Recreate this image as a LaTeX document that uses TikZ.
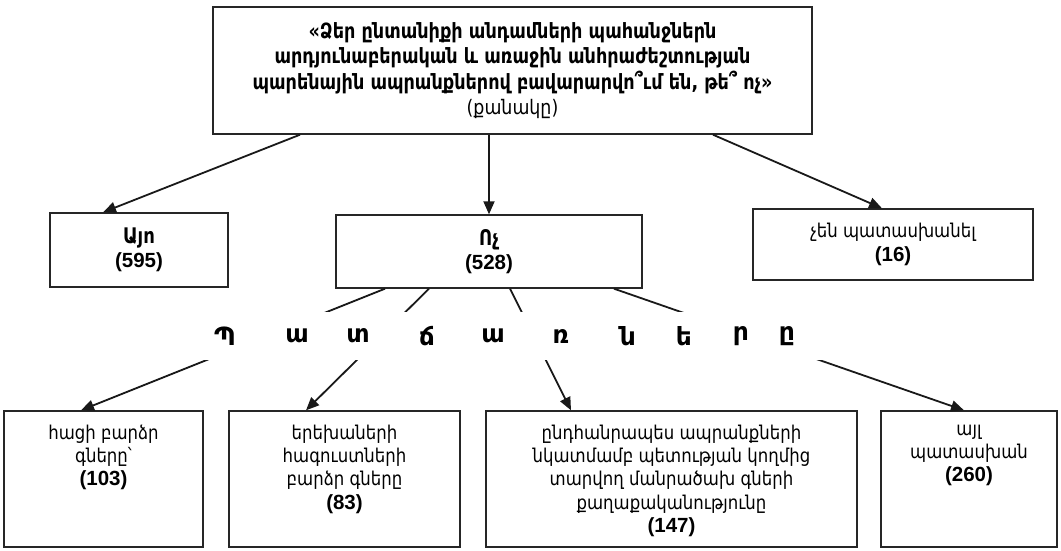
\documentclass[tikz,border=0pt]{standalone}
\usepackage{fontspec}
\setmainfont{Liberation Sans}
\newfontfamily\armfont[FakeStretch=0.87,BoldFeatures={FakeStretch=0.84}]{DejaVu Sans}
\newfontfamily\armwide{DejaVu Sans}
\newcommand{\hy}[1]{{\armfont #1}}
\newcommand{\cnt}[1]{{\bfseries\fontsize{20.5}{23}\selectfont (#1)}}
\newcommand{\ans}[1]{{\armfont\bfseries\fontsize{21.5}{23}\selectfont #1}}
\usetikzlibrary{arrows.meta,positioning}
\tikzstyle{box}=[draw=black!85,line width=1.4pt,inner sep=0pt,align=center,font=\fontsize{19}{23.5}\selectfont]
\tikzstyle{txt}=[inner sep=0pt,align=center,font=\fontsize{19}{23.2}\selectfont]
\tikzstyle{conn}=[black!90,line width=1.8pt]
\tikzstyle{arr}=[conn,-{Triangle[length=13pt,width=11pt]}]
\tikzstyle{letter}=[inner sep=0pt,font=\armwide\bfseries\fontsize{25}{25}\selectfont]

\begin{document}
\begin{tikzpicture}[x=1pt,y=-1pt]
      \useasboundingbox (0,0) rectangle (1061,550);

      % question
      \node[box,minimum width=599pt,minimum height=127pt,font=\bfseries\fontsize{21}{25.5}\selectfont] (q) at (512.5,70.5)
        {\hy{«Ձեր ընտանիքի անդամների պահանջներն}\\
         \hy{արդյունաբերական և առաջին անհրաժեշտության}\\
         \hy{պարենային ապրանքներով բավարարվո՞ւմ են, թե՞ ոչ»}\\
         \hy{\mdseries\fontsize{20}{25.5}\selectfont (քանակը)}};

      % answers
      \node[box,minimum width=178pt,minimum height=74pt] (yes) at (139,250) {\ans{Այո}\\ \cnt{595}};
      \node[box,minimum width=306pt,minimum height=73pt] (no) at (489,251.5) {\ans{Ոչ}\\ \cnt{528}};
      \node[box,minimum width=280pt,minimum height=71pt] (skip) at (893,244.5) {\hy{չեն պատասխանել}\\ \cnt{16}};

      % reasons
      \node[box,minimum width=199pt,minimum height=136pt] (b1) at (103.5,479) {};
      \node[box,minimum width=231pt,minimum height=136pt] (b2) at (344.5,479) {};
      \node[box,minimum width=371pt,minimum height=136pt] (b3) at (671.5,479) {};
      \node[box,minimum width=176pt,minimum height=136pt] (b4) at (969,479) {};
      \node[txt,below=14.5pt of b1.north] (t1) {\hy{հացի բարձր}\\ \hy{գները՝}\\ \cnt{103}};
      \node[txt,below=14.5pt of b2.north] (t2) {\hy{երեխաների}\\ \hy{հագուստների}\\ \hy{բարձր գները}\\ \cnt{83}};
      \node[txt,below=14.5pt of b3.north] (t3) {\hy{ընդհանրապես ապրանքների}\\ \hy{նկատմամբ պետության կողմից}\\
        \hy{տարվող մանրածախ գների}\\ \hy{քաղաքականությունը}\\ \cnt{147}};
      \node[txt,below=14.5pt of b4.north] (t4) {\hy{այլ}\\ \hy{պատասխան}\\ \cnt{260}};

      \draw[arr] ([xshift=-212.5pt]q.south) -- ([xshift=-36pt]yes.north);
      \draw[arr] (q.south -| no.north) -- (no.north);
      \draw[arr] ([xshift=200.5pt]q.south) -- ([xshift=-11pt]skip.north);

      \draw[arr] ([xshift=-104pt]no.south) -- ([xshift=-22.5pt]b1.north);
      \draw[arr] ([xshift=-60pt]no.south) -- ([xshift=-38.5pt]b2.north);
      \draw[arr] ([xshift=21pt]no.south) -- ([xshift=-100.5pt]b3.north);
      \draw[arr] ([xshift=125pt]no.south) -- ([xshift=-5pt]b4.north);

      \node[fill=white,inner sep=0pt,minimum width=660pt,minimum height=48pt] (band) at (505,336) {};
      \foreach \x/\l [count=\i] in {225/Պ,297/ա,358/տ,427/ճ,493/ա,561/ռ,628/ն,684/ե,741/ր,787/ը}
        \node[letter] (r\i) at (\x,336) {\l};
    \end{tikzpicture}
\end{document}
